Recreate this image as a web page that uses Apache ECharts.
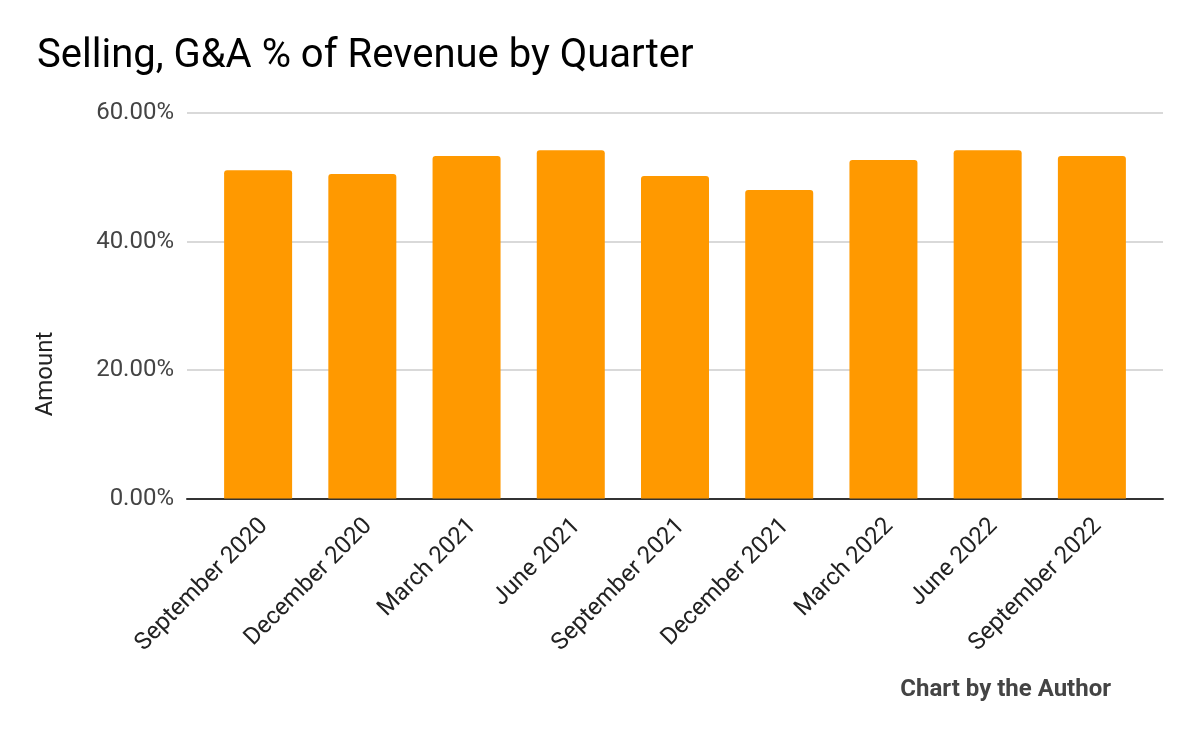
<!DOCTYPE html>
<html>
<head>
<meta charset="utf-8">
<script src="https://cdn.jsdelivr.net/npm/echarts@6/dist/echarts.min.js"></script>
<style>
html,body{margin:0;padding:0;background:#fff;}
#chart{width:1200px;height:742px;}
</style>
</head>
<body>
<div id="chart"></div>
<script>
var categories = ['September 2020','December 2020','March 2021','June 2021','September 2021','December 2021','March 2022','June 2022','September 2022'];
var sgaPercent = [51.1, 50.5, 53.3, 54.2, 50.2, 48.0, 52.7, 54.2, 53.3];
var yTicks = [0, 20, 40, 60];

var chart = echarts.init(document.getElementById('chart'), null, {renderer:'canvas'});
var FONT = 'Roboto';
chart.setOption({
  backgroundColor:'#ffffff',
  animation:false,
  title:{
    text:'Selling, G&A % of Revenue by Quarter',
    left:32, top:32,
    textStyle:{fontFamily:FONT, fontSize:40, fontWeight:'normal', color:'#000'}
  },
  graphic:[
    {type:'text', right:89, top:678,
     style:{text:'Chart by the Author', font:'bold 24px Roboto', fill:'#444'}},
    {type:'text', x:46, y:374, rotation:Math.PI/2,
     style:{text:'Amount', font:'24px Roboto', fill:'#222', align:'center', verticalAlign:'middle'}}
  ],
  grid:[
    {left:187, right:37, top:113, bottom:243.5},
    {left:206, right:56, top:113, bottom:243.5}
  ],
  xAxis:[
    {gridIndex:0, type:'value', min:0, max:1,
     axisLine:{show:true, lineStyle:{color:'#333', width:2}},
     axisTick:{show:false}, axisLabel:{show:false}, splitLine:{show:false}},
    {gridIndex:1, type:'category', data:categories,
     axisLine:{show:false}, axisTick:{show:false},
     axisLabel:{rotate:45, margin:18, interval:0, fontFamily:FONT, fontSize:24, color:'#222',
       lineHeight:17, verticalAlign:'top'}}
  ],
  yAxis:[
    {gridIndex:0, type:'value', min:yTicks[0], max:yTicks[yTicks.length-1], interval:20,
     axisLine:{show:false}, axisTick:{show:false},
     axisLabel:{margin:13, fontFamily:FONT, fontSize:24, color:'#444',
       formatter:function(v){return v.toFixed(2)+'%';}},
     splitLine:{show:true, lineStyle:{color:'#cccccc', width:1.5}}},
    {gridIndex:1, type:'value', min:yTicks[0], max:yTicks[yTicks.length-1], interval:20, show:false}
  ],
  series:[{
    type:'bar', xAxisIndex:1, yAxisIndex:1,
    data:sgaPercent, barWidth:68,
    itemStyle:{color:'#ff9900', borderRadius:[3,3,0,0]}
  }]
});
</script>
</body>
</html>
